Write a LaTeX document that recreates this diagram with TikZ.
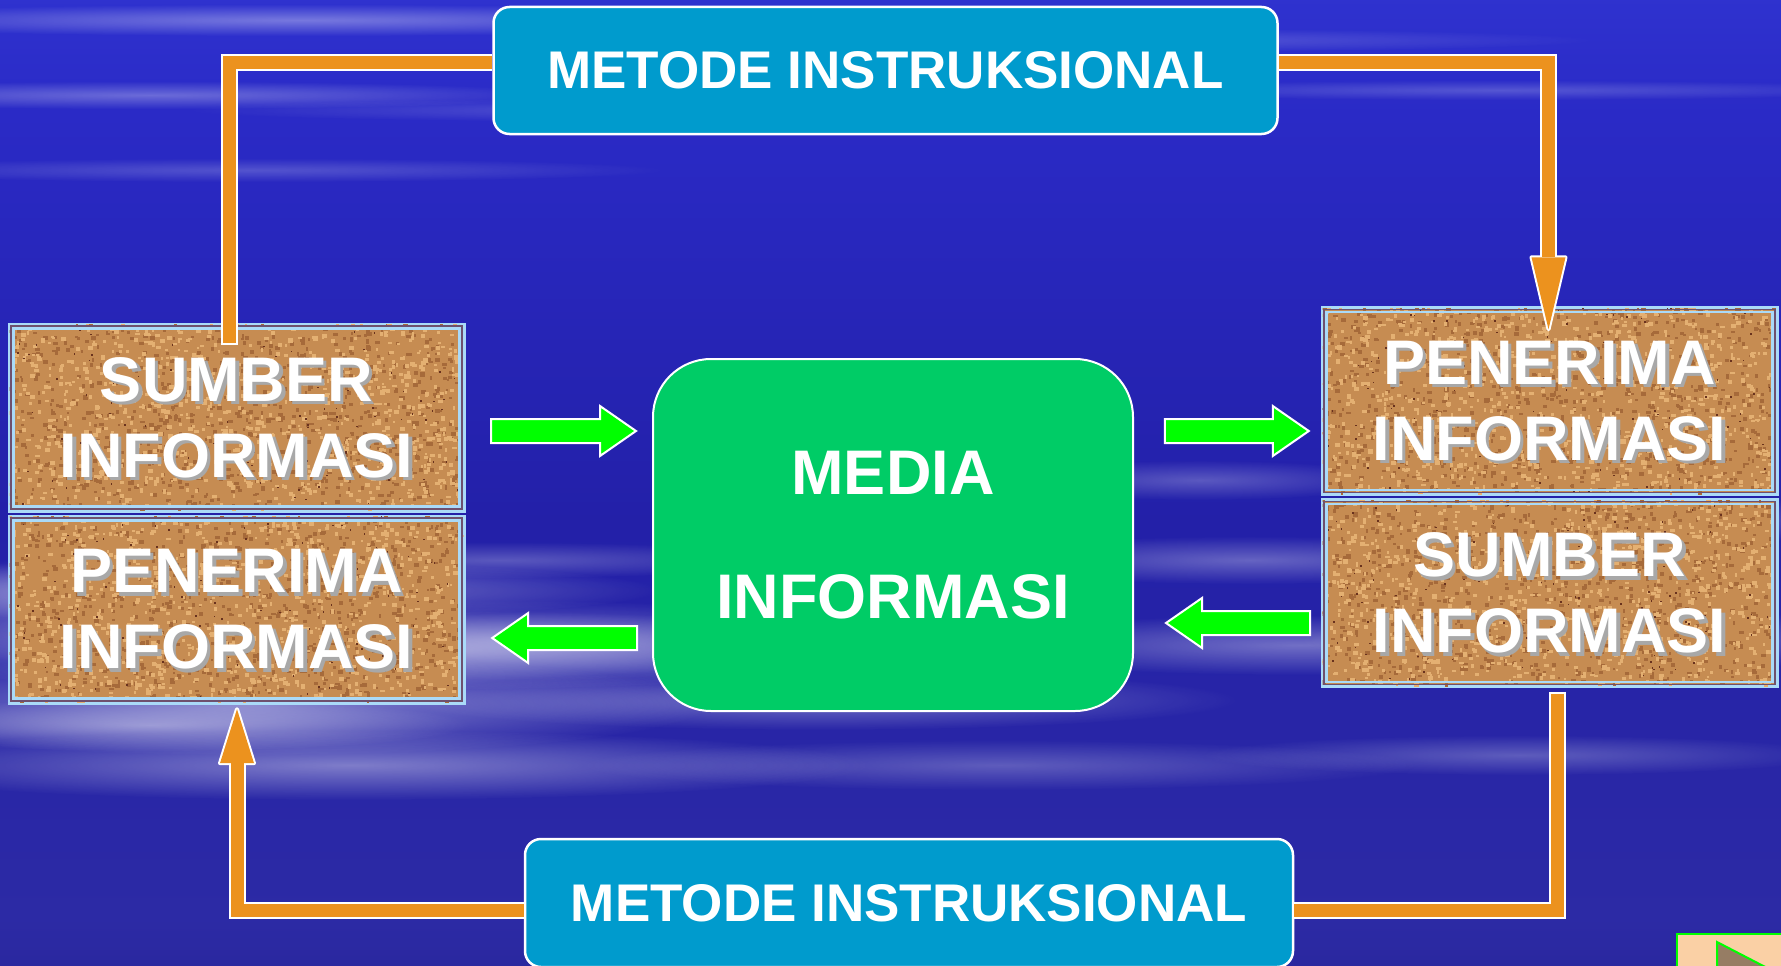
\documentclass[tikz,border=0pt]{standalone}
\usepackage{fontspec}
\setmainfont{Liberation Sans}
\usetikzlibrary{fadings}
\definecolor{sky0}{RGB}{36,30,140}
\definecolor{sky1}{RGB}{32,28,128}
\definecolor{sky2}{RGB}{44,42,165}
\definecolor{sky3}{RGB}{35,32,168}
\definecolor{sky4}{RGB}{42,42,198}
\definecolor{sky5}{RGB}{54,62,220}
\definecolor{sky6}{RGB}{76,96,234}
\definecolor{metblue}{RGB}{0,155,205}
\definecolor{medgreen}{RGB}{0,204,102}
\definecolor{arrowgreen}{RGB}{0,255,0}
\definecolor{barorange}{RGB}{236,146,30}
\definecolor{corkbase}{RGB}{198,140,82}
\definecolor{corklight}{RGB}{228,176,114}
\definecolor{corkdark}{RGB}{166,106,58}
\definecolor{corkspeck}{RGB}{105,50,30}
\definecolor{corkblue}{RGB}{170,218,248}
\definecolor{corkline}{RGB}{110,80,110}
\definecolor{shadowgray}{RGB}{168,168,168}
\definecolor{navpeach}{RGB}{250,208,165}
\definecolor{navtri}{RGB}{150,125,100}
\pgfdeclareverticalshading{sky}{100bp}{color(0bp)=(sky0); color(12bp)=(sky1); color(27.5bp)=(sky2); color(48bp)=(sky3); color(69bp)=(sky4); color(84.5bp)=(sky5); color(100bp)=(sky6)}
\tikzfading[name=soft, inner color=transparent!0, outer color=transparent!100]
\pgfmathsetseed{4711}
\newcommand\corkbox[4]{%
  \node[corkfill] (#1bg) at (#2,#3) {};
  \begin{scope}
    \clip ([xshift=2pt,yshift=-2pt]#1bg.north west) rectangle ([xshift=-2pt,yshift=2pt]#1bg.south east);
    \begin{scope}[shift={(#1bg.north west)}]
      \foreach \k in {1,...,850}{%
        \pgfmathsetmacro\rx{rnd*452}%
        \pgfmathsetmacro\ry{rnd*185}%
        \pgfmathsetmacro\rw{2+rnd*3}%
        \pgfmathsetmacro\rh{2+rnd*2.5}%
        \fill[corkdark] (\rx,\ry) rectangle ++(\rw,\rh);
      }
      \foreach \k in {1,...,950}{%
        \pgfmathsetmacro\rx{rnd*452}%
        \pgfmathsetmacro\ry{rnd*185}%
        \pgfmathsetmacro\rw{2+rnd*3}%
        \pgfmathsetmacro\rh{2+rnd*2.5}%
        \fill[corklight] (\rx,\ry) rectangle ++(\rw,\rh);
      }
      \foreach \k in {1,...,110}{%
        \pgfmathsetmacro\rx{rnd*453}%
        \pgfmathsetmacro\ry{rnd*186}%
        \fill[corkspeck] (\rx,\ry) rectangle ++(1.6,1.6);
      }
    \end{scope}
  \end{scope}
  \draw[corkline, line width=1.2pt] ([xshift=3.5pt,yshift=-3.5pt]#1bg.north west) rectangle ([xshift=-3.5pt,yshift=3.5pt]#1bg.south east);
  \draw[corkblue, line width=2.5pt] ([xshift=6pt,yshift=-6pt]#1bg.north west) rectangle ([xshift=-6pt,yshift=6pt]#1bg.south east);
  \node[corkshadow] (#1sh) at ([xshift=3.5pt,yshift=-3.5pt]#1bg.center) {#4};
  \node[corktext] (#1) at (#1bg.center) {#4};
}
\begin{document}
\begin{tikzpicture}[x=1pt,y=-1pt,
  corkfill/.style={fill=corkbase, draw=corkblue, line width=3pt, minimum width=455pt, minimum height=187pt, inner sep=0pt},
  corktext/.style={text=white, font=\fontsize{63}{76}\selectfont\bfseries, align=center, minimum width=455pt, minimum height=187pt, inner sep=0pt},
  corkshadow/.style={text=shadowgray, font=\fontsize{63}{76}\selectfont\bfseries, align=center, inner sep=0pt},
  metode/.style={fill=metblue, draw=white, line width=2.5pt, rounded corners=16pt, text=white, font=\fontsize{53}{60}\selectfont\bfseries, inner sep=0pt},
  media/.style={fill=medgreen, draw=white, line width=2pt, rounded corners=58pt, minimum width=480pt, minimum height=352pt, text=white, font=\fontsize{63}{124}\selectfont\bfseries, align=center, inner sep=0pt},
  garrow/.style={fill=arrowgreen, draw=white, line width=2pt, line join=miter},
  barW/.style={draw=white, line width=17pt, line join=miter},
  barO/.style={draw=barorange, line width=13pt, line join=miter},
  headW/.style={fill=white, draw=white, line width=4pt, line join=round},
  headO/.style={fill=barorange}]
\useasboundingbox (0,0) rectangle (1781,966);
\clip (0,0) rectangle (1781,966);
% sky
\shade[shading=sky] (0,0) rectangle (1781,966);
\foreach \cx/\cy/\rx/\ry/\op in {300/20/520/16/0.35, 150/95/420/14/0.3, 700/110/520/12/0.2, 250/170/420/12/0.2, 1500/90/420/10/0.2, 1100/40/500/12/0.2,
  200/590/460/30/0.45, 380/650/560/40/0.5, 150/725/320/26/0.4, 820/700/420/30/0.35, 1250/560/300/24/0.3, 1300/645/360/30/0.35,
  1650/520/260/24/0.3, 1620/640/320/30/0.35, 1000/765/420/25/0.25, 1520/755/320/20/0.25, 500/560/300/18/0.25,
  250/705/460/50/0.45, 350/765/520/35/0.4, 520/640/360/40/0.35, 90/610/220/55/0.35, 1200/480/200/20/0.25}
  \fill[white, fill opacity=\op, path fading=soft] (\cx,\cy) ellipse [x radius=\rx, y radius=\ry];
% cork boxes
\corkbox{sl}{236.5}{417.5}{SUMBER\\INFORMASI}
\corkbox{pl}{236.5}{609.5}{PENERIMA\\INFORMASI}
\corkbox{pr}{1549.5}{401}{PENERIMA\\INFORMASI}
\corkbox{sr}{1549.5}{593}{SUMBER\\INFORMASI}
% media
\node[media] (m) at (893,535) {MEDIA\\INFORMASI};
% metode boxes
\node[metode, minimum width=784pt, minimum height=127pt] (mt) at (885.5,70.5) {METODE INSTRUKSIONAL};
\node[metode, minimum width=768pt, minimum height=128pt] (mb) at (909,903) {METODE INSTRUKSIONAL};
% green arrows
\filldraw[garrow] ([xshift=-16pt,yshift=104pt]m.west) -- ++(-36,-25) -- ++(0,13) -- ++(-109,0) -- ++(0,24) -- ++(109,0) -- ++(0,13) -- cycle;
\filldraw[garrow] ([xshift=-13pt,yshift=-30pt]pr.west) -- ++(-36,-25) -- ++(0,13) -- ++(-108,0) -- ++(0,24) -- ++(108,0) -- ++(0,13) -- cycle;
\filldraw[garrow] ([xshift=32pt,yshift=-88pt]m.east) -- ++(36,-25) -- ++(0,13) -- ++(108,0) -- ++(0,24) -- ++(-108,0) -- ++(0,13) -- cycle;
\filldraw[garrow] ([xshift=28pt,yshift=-28.5pt]pl.east) -- ++(36,-25) -- ++(0,13) -- ++(109,0) -- ++(0,24) -- ++(-109,0) -- ++(0,13) -- cycle;
% orange connectors
\draw[barW, shorten <=-2pt] ([xshift=-7pt,yshift=-19pt]sl.north) |- ([yshift=8pt]mt.west);
\draw[barO] ([xshift=-7pt,yshift=-19pt]sl.north) |- ([yshift=8pt]mt.west);
\coordinate (t2) at ([xshift=-1pt,yshift=-22pt]pr.north);
\draw[barW] ([yshift=8pt]mt.east) -| ([yshift=72pt]t2);
\filldraw[headW] (t2) -- ++(17,-72) -- ++(-34,0) -- cycle;
\draw[barO] ([yshift=8pt]mt.east) -| ([yshift=72pt]t2);
\fill[headO] (t2) -- ++(17,-72) -- ++(-34,0) -- cycle;
\draw[barW, shorten <=-2pt] ([xshift=8pt,yshift=-7pt]sr.south) |- ([yshift=-7.5pt]mb.east);
\draw[barO] ([xshift=8pt,yshift=-7pt]sr.south) |- ([yshift=-7.5pt]mb.east);
\coordinate (t4) at ([xshift=0.5pt,yshift=-6pt]pl.south);
\draw[barW] ([yshift=-7.5pt]mb.west) -| ([yshift=-54pt]t4);
\filldraw[headW] (t4) -- ++(17,54) -- ++(-34,0) -- cycle;
\draw[barO] ([yshift=-7.5pt]mb.west) -| ([yshift=-54pt]t4);
\fill[headO] (t4) -- ++(17,54) -- ++(-34,0) -- cycle;
% navigation button
\draw[arrowgreen, fill=navpeach, line width=2pt] (1677,934) rectangle (1800,1010);
\filldraw[draw=arrowgreen, fill=navtri, line width=2pt] (1717,942) -- (1800,985) -- (1717,1028) -- cycle;
\end{tikzpicture}
\end{document}
